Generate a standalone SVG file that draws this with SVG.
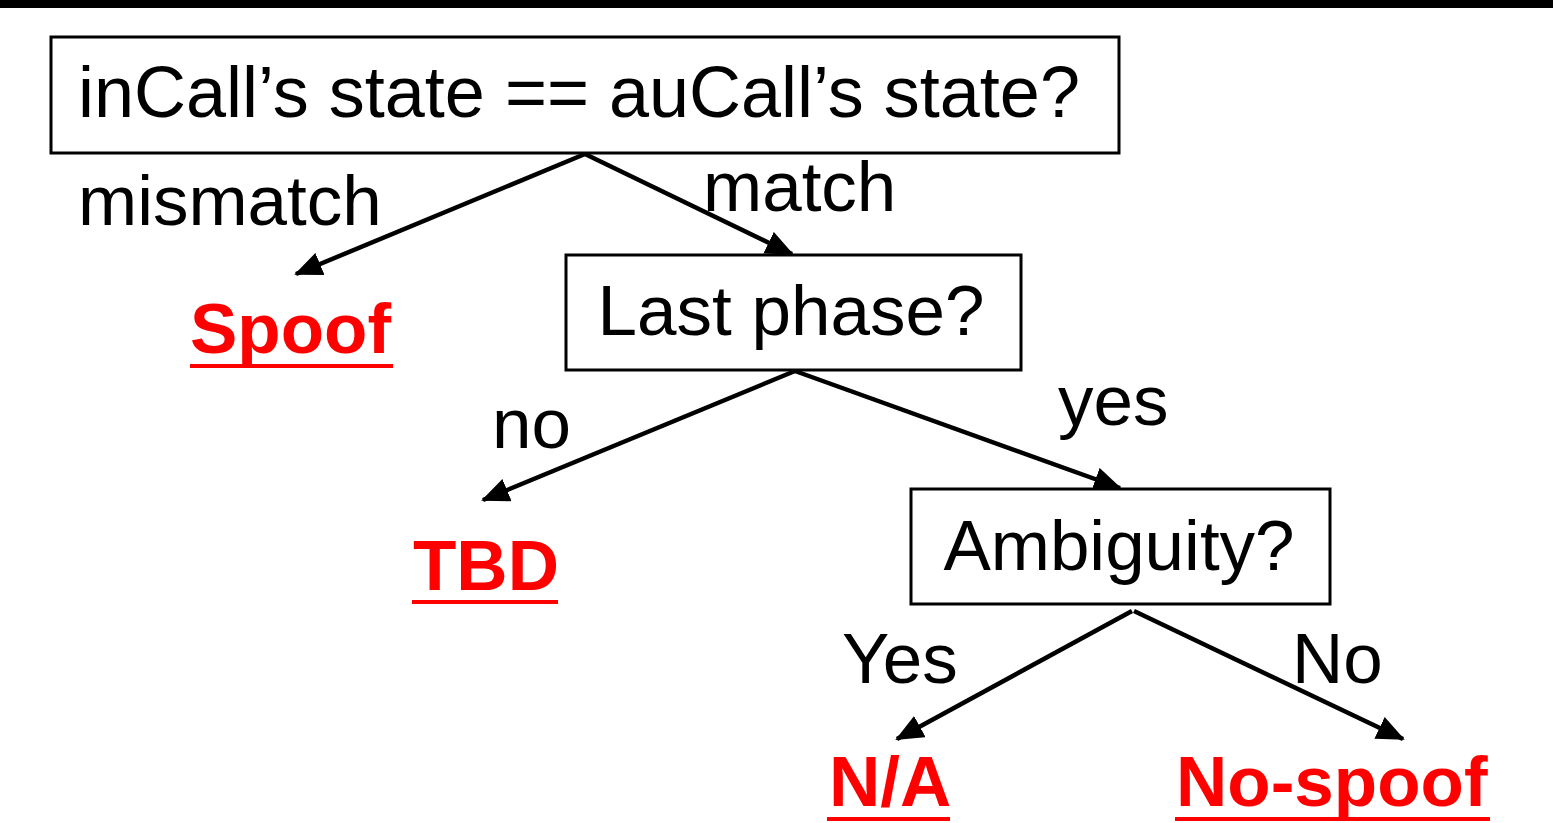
<svg xmlns="http://www.w3.org/2000/svg" width="1553" height="823" viewBox="0 0 1553 823">
<style>
.box{fill:#fff;stroke:#000;stroke-width:3}
.t{font-family:"Liberation Sans",Arial,sans-serif;font-size:71px;fill:#000}
.r{font-family:"Liberation Sans",Arial,sans-serif;font-size:71px;font-weight:bold;fill:#ff0000}
.u{stroke:#ff0000;stroke-width:4}
.c{stroke:#000;stroke-width:4.5;fill:none;marker-end:url(#ah)}
</style>
<defs>
<marker id="ah" markerUnits="userSpaceOnUse" markerWidth="28" markerHeight="24" refX="26" refY="12" orient="auto">
<path d="M0,0 L28,12 L0,24 Z" fill="#000"/>
</marker>
</defs>
<rect x="0" y="0" width="1553" height="8" fill="#000"/>
<g id="connectors">
<line class="c" x1="585" y1="154" x2="296" y2="274"/>
<line class="c" x1="585" y1="154" x2="792" y2="254"/>
<line class="c" x1="795" y1="371" x2="483" y2="500"/>
<line class="c" x1="795" y1="371" x2="1120" y2="488"/>
<line class="c" x1="1132" y1="611" x2="897" y2="739"/>
<line class="c" x1="1134" y1="611" x2="1403" y2="739"/>
<text class="t" x="78" y="225">mismatch</text>
<text class="t" x="703" y="211">match</text>
<text class="t" x="492" y="448">no</text>
<text class="t" x="1058" y="425">yes</text>
<text class="t" x="842" y="683">Yes</text>
<text class="t" x="1292" y="683">No</text>
</g>
<g id="n1">
<rect class="box" x="51" y="37" width="1068" height="116"/>
<text class="t" x="579" y="117" text-anchor="middle" style="font-size:72px">inCall’s state == auCall’s state?</text>
</g>
<g id="n2">
<rect class="box" x="566" y="255" width="455" height="115"/>
<text class="t" x="791" y="335" text-anchor="middle">Last phase?</text>
</g>
<g id="n3">
<rect class="box" x="911" y="489" width="419" height="115"/>
<text class="t" x="1119" y="570" text-anchor="middle">Ambiguity?</text>
</g>
<g id="spoof">
<text class="r" x="190" y="353">Spoof</text>
<line class="u" x1="190" y1="366" x2="393" y2="366"/>
</g>
<g id="tbd">
<text class="r" x="413" y="590">TBD</text>
<line class="u" x1="412" y1="602" x2="558" y2="602"/>
</g>
<g id="na">
<text class="r" x="829" y="806">N/A</text>
<line class="u" x1="827" y1="819" x2="950" y2="819"/>
</g>
<g id="nospoof">
<text class="r" x="1176" y="806">No-spoof</text>
<line class="u" x1="1175" y1="819" x2="1490" y2="819"/>
</g>
</svg>
